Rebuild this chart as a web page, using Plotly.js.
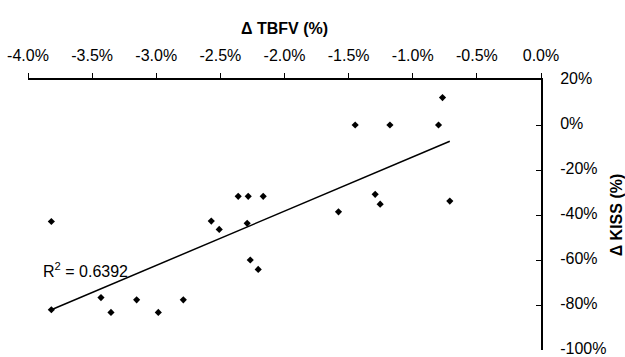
<!DOCTYPE html>
<html>
<head>
<meta charset="utf-8">
<script src="https://cdn.plot.ly/plotly-3.0.1.min.js"></script>
<style>html,body{margin:0;padding:0;background:#fff}</style>
</head>
<body>
<div id="chart" style="width:625px;height:357px"></div>
<script>
// Δ TBFV (%) values
const tbfv = [-3.818, -3.818, -3.431, -3.353, -3.153, -2.984, -2.789, -2.571, -2.509,
  -2.361, -2.283, -2.166, -2.291, -2.267, -2.205,
  -1.449, -1.178, -0.799, -1.579, -1.293, -1.254, -0.711, -0.768];
// Δ KISS (%) values
const kiss = [-42.9, -82.1, -76.7, -83.3, -77.7, -83.3, -77.7, -42.7, -46.4,
  -31.7, -31.7, -31.7, -43.7, -60.0, -64.2,
  0, 0, 0, -38.6, -30.8, -35.2, -33.8, 12.2];
const xTicks = [-4.0, -3.5, -3.0, -2.5, -2.0, -1.5, -1.0, -0.5, 0.0];
const yTicks = [20, 0, -20, -40, -60, -80, -100];
const r2Label = "R<sup>2</sup> = 0.6392";

// least-squares trendline
const n = tbfv.length;
const mx = tbfv.reduce((a, b) => a + b, 0) / n;
const my = kiss.reduce((a, b) => a + b, 0) / n;
let sxy = 0, sxx = 0;
for (let i = 0; i < n; i++) { sxy += (tbfv[i] - mx) * (kiss[i] - my); sxx += (tbfv[i] - mx) ** 2; }
const slope = sxy / sxx, icpt = my - slope * mx;
const xmin = Math.min(...tbfv), xmax = Math.max(...tbfv);
const trendX = [xmin, xmax];
const trendY = trendX.map(v => icpt + slope * v);

const font = {family: "Liberation Sans, Arial, sans-serif", size: 16, color: "#000"};

const data = [
  {x: trendX, y: trendY, mode: "lines", type: "scatter",
   line: {color: "#000", width: 1.5}, hoverinfo: "skip"},
  {x: tbfv, y: kiss, mode: "markers", type: "scatter",
   marker: {symbol: "diamond", size: 5.5, color: "#000"}}
];

const layout = {
  width: 625, height: 357,
  margin: {l: 28, r: 84, t: 80, b: 7},
  showlegend: false,
  paper_bgcolor: "#fff", plot_bgcolor: "#fff",
  font: font,
  xaxis: {
    side: "top", range: [-4, 0], tickvals: xTicks,
    ticktext: xTicks.map(v => v.toFixed(1) + "%"),
    showgrid: false, zeroline: false,
    showline: true, linecolor: "#000", linewidth: 2,
    ticks: "outside", ticklen: 5, tickwidth: 1, tickcolor: "#000",
    ticklabelstandoff: 6,
    title: {text: "<b>Δ TBFV (%)</b>", font: font, standoff: 8},
    automargin: false
  },
  yaxis: {
    side: "right", range: [-100, 20], tickvals: yTicks,
    ticktext: yTicks.map(v => v + "%"),
    showgrid: false, zeroline: false,
    showline: true, linecolor: "#000", linewidth: 2,
    ticks: "inside", ticklen: 5, tickwidth: 1, tickcolor: "#000",
    ticklabelstandoff: 14, ticklabeloverflow: "allow", ticklabelshift: -2,
    title: {text: "<b>Δ KISS (%)</b>", font: font, standoff: 16},
    automargin: false
  },
  annotations: [{
    x: -3.899, y: -64.6, xref: "x", yref: "y", xanchor: "left", yanchor: "middle",
    text: r2Label, showarrow: false, font: font
  }]
};

Plotly.newPlot("chart", data, layout, {displayModeBar: false, staticPlot: true});
</script>
</body>
</html>
